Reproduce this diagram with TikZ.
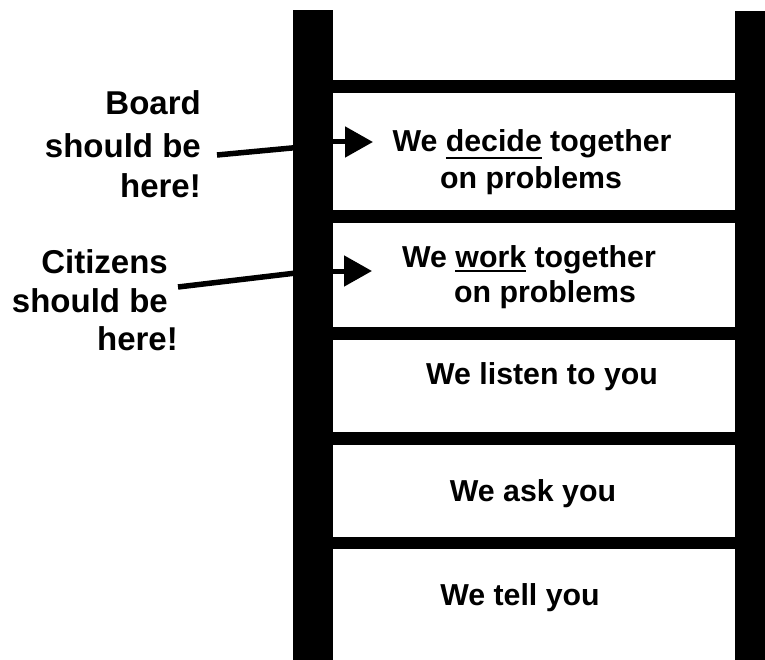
\documentclass[tikz,border=0pt]{standalone}
\usepackage{fontspec}
\setmainfont{Liberation Sans}
\usetikzlibrary{arrows.meta}
\newcommand\myul[2]{\leavevmode\setbox0\hbox{#2}\rlap{\rule[-#1]{\wd0}{1.8pt}}\box0\relax}
\tikzset{
  wood/.style={fill=black,draw=none},
  rungtext/.style={anchor=base,inner sep=0pt,font=\bfseries\fontsize{30.3}{34}\selectfont},
  sidetext/.style={inner sep=0pt,font=\bfseries\fontsize{33}{38}\selectfont},
  pointer/.style={line width=5.5pt},
  pointerhead/.style={line width=5pt,-{Triangle[length=28pt,width=30pt]}}
}
\begin{document}
\begin{tikzpicture}[x=1pt,y=-1pt]
\useasboundingbox (0,0) rectangle (765,660);
% pointers (behind the rail)
\coordinate (bl) at (217,155);
\coordinate (br) at (313,146);
\coordinate (bs) at (313,142);
\coordinate (bt) at (373,142);
\coordinate (cl) at (178,287);
\coordinate (cr) at (313,271);
\coordinate (cs) at (313,271);
\coordinate (ct) at (372,271);
\draw[pointer] (bl) -- (br);
\draw[pointerhead] (bs) -- (bt);
\draw[pointer] (cl) -- (cr);
\draw[pointerhead] (cs) -- (ct);
% rails
\fill[wood] (293,10) rectangle (333,660);
\fill[wood] (735,11) rectangle (765,660);
% rungs
\fill[wood] (333,80) rectangle (735,93);
\fill[wood] (333,210) rectangle (735,223);
\fill[wood] (333,327) rectangle (735,340);
\fill[wood] (333,432) rectangle (735,445);
\fill[wood] (333,537) rectangle (735,549);
% ladder texts
\node[rungtext] (t1a) at (532,152) {We \myul{7pt}{decide} together};
\node[rungtext] (t1b) at (531,189) {on problems};
\node[rungtext] (t2a) at (529,268) {We \myul{4pt}{work} together};
\node[rungtext] (t2b) at (545,302) {on problems};
\node[rungtext] (t3) at (542,384) {We listen to you};
\node[rungtext] (t4) at (533,501) {We ask you};
\node[rungtext] (t5) at (520,605) {We tell you};
% side labels
\node[sidetext,anchor=base east] (b1) at (201,115) {Board};
\node[sidetext,anchor=base east] (b2) at (201,158) {should be};
\node[sidetext,anchor=base east] (b3) at (201,198) {here!};
\node[sidetext,anchor=base east] (c1) at (168,273) {Citizens};
\node[sidetext,anchor=base east] (c2) at (168,312) {should be};
\node[sidetext,anchor=base east] (c3) at (178,350) {here!};
\end{tikzpicture}
\end{document}
